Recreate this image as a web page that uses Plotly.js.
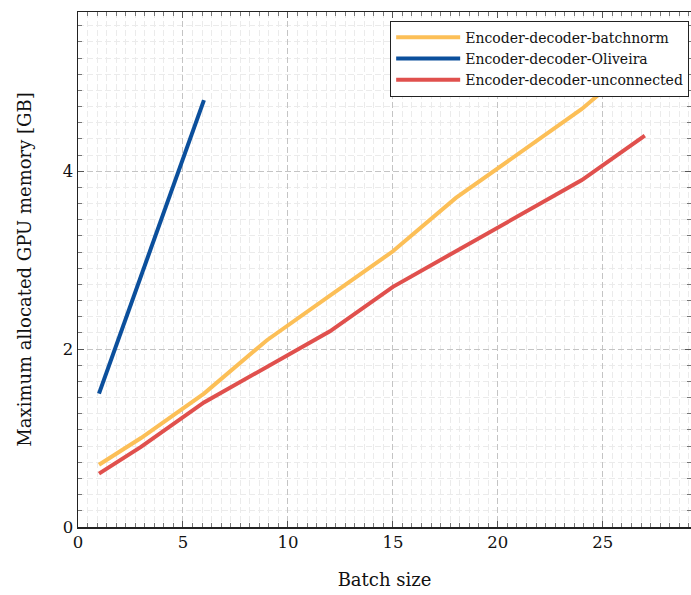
<!DOCTYPE html>
<html>
<head>
<meta charset="utf-8">
<script src="https://cdn.plot.ly/plotly-3.0.1.min.js"></script>
<style>html,body{margin:0;padding:0;background:#fff;}#chart{width:691px;height:595px;}</style>
</head>
<body>
<div id="chart"></div>
<script>
const seriesNames = ["Encoder-decoder-batchnorm", "Encoder-decoder-Oliveira", "Encoder-decoder-unconnected"];
const batchnormX = [1, 3, 6, 9, 12, 15, 18, 21, 24, 27];
const batchnormY = [0.7, 1.0, 1.5, 2.1, 2.6, 3.1, 3.7, 4.2, 4.7, 5.3];
const oliveiraX = [1, 3, 6];
const oliveiraY = [1.5, 2.82, 4.8];
const unconnectedX = [1, 3, 6, 9, 12, 15, 18, 21, 24, 27];
const unconnectedY = [0.6, 0.9, 1.4, 1.8, 2.2, 2.7, 3.1, 3.5, 3.9, 4.4];
const colors = ["#fcbf57", "#0b4f9c", "#e0504d"];

const font = "DejaVu Serif, Liberation Serif, serif";
const traces = [
  {x: batchnormX, y: batchnormY, name: seriesNames[0]},
  {x: oliveiraX, y: oliveiraY, name: seriesNames[1]},
  {x: unconnectedX, y: unconnectedY, name: seriesNames[2]}
].map((t, i) => Object.assign(t, {type: "scatter", mode: "lines", line: {color: colors[i], width: 4}}));

const axisCommon = {
  showline: true, linecolor: "#222", linewidth: 1.5, mirror: "allticks",
  ticks: "inside", ticklen: 6, tickwidth: 1, tickcolor: "#555",
  showgrid: true, gridcolor: "#c4c4c4", gridwidth: 1, griddash: "6px,3px",
  zeroline: false, tickfont: {family: font, size: 16.5, color: "#111"}
};

const layout = {
  width: 691, height: 595,
  margin: {l: 78, r: 0, t: 12, b: 68},
  paper_bgcolor: "#fff", plot_bgcolor: "#fff",
  font: {family: font, color: "#111"},
  showlegend: true,
  xaxis: Object.assign({}, axisCommon, {
    range: [0, 29.2], tick0: 0, dtick: 5,
    minor: {tick0: 0, dtick: 5/11, ticks: "inside", ticklen: 4, tickcolor: "#777", showgrid: true, gridcolor: "#ebebeb", griddash: "6px,3px"},
    title: {text: "Batch size", font: {family: font, size: 18}, standoff: 22}
  }),
  yaxis: Object.assign({}, axisCommon, {
    range: [0, 5.79], tick0: 0, dtick: 2,
    minor: {tick0: 0, dtick: 2/11, ticks: "inside", ticklen: 4, tickcolor: "#777", showgrid: true, gridcolor: "#ebebeb", griddash: "6px,3px"},
    title: {text: "Maximum allocated GPU memory [GB]", font: {family: font, size: 18}, standoff: 26}
  }),
  legend: {
    x: 0.997, y: 0.983, xanchor: "right", yanchor: "top",
    bgcolor: "#fff", bordercolor: "#222", borderwidth: 1,
    font: {family: font, size: 14, color: "#111"},
    itemwidth: 64, tracegroupgap: 0
  }
};

Plotly.newPlot("chart", traces, layout, {displayModeBar: false, staticPlot: true});
</script>
</body>
</html>
